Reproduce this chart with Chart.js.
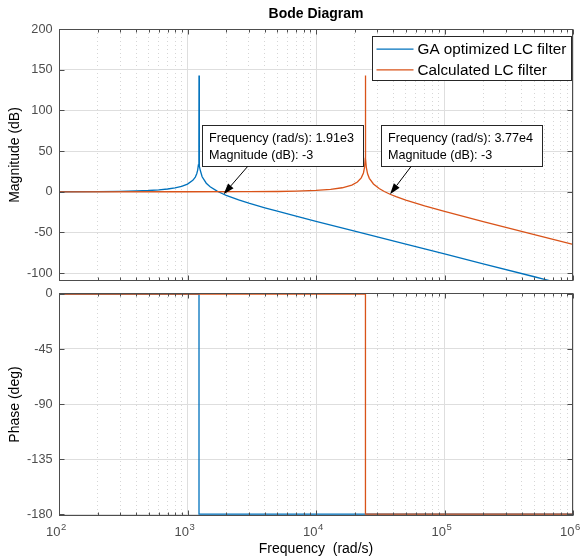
<!DOCTYPE html>
<html>
<head>
<meta charset="utf-8">
<script src="https://cdn.jsdelivr.net/npm/chart.js@4.4.0/dist/chart.umd.min.js"></script>
<style>
  html, body { margin: 0; padding: 0; background: #fff; }
  #wrap { position: relative; width: 587px; height: 560px; }
  #wrap canvas { position: absolute; left: 0; top: 0; }
</style>
</head>
<body>
<div id="wrap">
  <canvas id="magChart" width="587" height="560"></canvas>
  <canvas id="phaseChart" width="587" height="560"></canvas>
</div>
<script>
// series names
const seriesNames = ['GA optimized LC filter', 'Calculated LC filter'];

// GA optimized filter - magnitude (dB)
const gaFreq = [100, 200, 300, 400, 500, 600, 700, 800, 900, 1000,
    1100, 1150, 1180, 1200, 1215, 1225, 1228, 1229, 1230, 1233,
    1245, 1260, 1300, 1400, 1500, 1700, 1910, 2000, 2500, 3000,
    4000, 5000, 7000, 10000, 20000, 50000, 100000, 200000, 500000, 600000,
    1000000];
const gaMag = [0.06, 0.23, 0.53, 0.97, 1.57, 2.36, 3.41, 4.79, 6.68, 9.42,
    14.03, 18.1, 22.15, 26.63, 32.9, 43.7, 55.8, 143, 55.8, 43.7,
    31.6, 25.8, 18.5, 10.53, 6.2, 0.79, -3.02, -4.34, -9.93, -13.91,
    -19.64, -23.84, -29.95, -36.29, -48.43, -64.37, -76.42, -88.46, -104.38, -107.55,
    -116.4];

// calculated filter - magnitude (dB)
const calcFreq = [100, 1000, 3000, 5000, 7000, 10000, 13000, 16000, 19000, 21000,
    22500, 23400, 23900, 24150, 24230, 24260, 24290, 24370, 24650, 25200,
    26000, 28000, 31000, 34000, 37700, 42000, 50000, 70000, 100000, 150000,
    200000, 300000, 500000, 700000, 1000000];
const calcMag = [0, 0.02, 0.13, 0.38, 0.76, 1.62, 2.94, 4.96, 8.25, 12.02,
    17.09, 23.14, 30.62, 40.88, 52.1, 143, 52.1, 40.8, 29.79, 22.05,
    16.56, 9.57, 3.97, 0.32, -3.01, -6.01, -10.23, -17.3, -24.08, -31.42,
    -36.52, -43.63, -52.54, -58.4, -64.6];

// phase (deg)
const gaPhaseFreq = [100, 1229, 1229, 1000000];
const gaPhase = [0, 0, -180, -180];
const calcPhaseFreq = [100, 24260, 24260, 1000000];
const calcPhase = [0, 0, -180, -180];

// data tips
const tipFreq = [1910, 37700];
const tipMag = [-3, -3];

// ticks
const decades = [100, 1000, 10000, 100000, 1000000];
const decadeBase = '10';
const decadeExps = ['2', '3', '4', '5', '6'];
const magTicks = [-100, -50, 0, 50, 100, 150, 200];
const phaseTicks = [-180, -135, -90, -45, 0];

// layout bits for the data tip boxes (pixel offsets from the tip point)
const tipBoxDx = [-22, -9];
const tipTailDx = [24, 21];

const fontFamily = '"Liberation Sans", Arial, Helvetica, sans-serif';
const blue = '#0072BD';
const orange = '#D95319';
const tickGray = '#4d4d4d';
Chart.defaults.font.family = fontFamily;
Chart.defaults.color = tickGray;

const minorFreqs = [];
decades.slice(0, -1).forEach(d => { for (let k = 2; k <= 9; k++) minorFreqs.push(k * d); });
const allFreqTicks = decades.concat(minorFreqs).sort((a, b) => a - b);
const isDecade = v => decades.includes(v);

function pts(xs, ys) { return xs.map((x, i) => ({ x: x, y: ys[i] })); }

function freqAxis(showLabels) {
    return {
        type: 'logarithmic',
        min: 100,
        max: 1000000,
        afterBuildTicks: s => { s.ticks = allFreqTicks.map(v => ({ value: v })); },
        afterFit: s => { s.height = showLabels ? 44 : 0; },
        grid: {
            color: c => (c.tick && isDecade(c.tick.value)) ? '#dedede' : '#d6d6d6',
            lineWidth: 1,
            drawTicks: false
        },
        border: {
            display: false,
            dash: c => (c.tick && !isDecade(c.tick.value)) ? [1, 3] : []
        },
        ticks: { display: false, autoSkip: false },
        title: {
            display: showLabels,
            text: 'Frequency  (rad/s)',
            color: '#000',
            font: { size: 14 },
            padding: { top: 0, bottom: 2 }
        }
    };
}

function valueAxis(min, max, ticks, title) {
    return {
        min: min,
        max: max,
        bounds: 'data',
        afterBuildTicks: s => { s.ticks = ticks.map(v => ({ value: v })); },
        afterFit: s => { s.width = 59; },
        grid: { color: '#dedede', drawTicks: false },
        border: { display: false },
        ticks: { padding: 6.5, font: { size: 12.7 }, color: tickGray, callback: v => String(v) },
        title: { display: true, text: title, color: '#000', font: { size: 14 }, padding: { top: 7, bottom: 0 } }
    };
}

// box round the plot area, with inward tick marks
const axesBox = {
    id: 'axesBox',
    afterDatasetsDraw(chart) {
        const ctx = chart.ctx;
        const a = chart.chartArea;
        const xs = chart.scales.x, ys = chart.scales.y;
        const L = Math.round(a.left) + 0.5, R = Math.round(a.right) - 0.5;
        const T = Math.round(a.top) + 0.5, B = Math.round(a.bottom) - 0.5;
        ctx.save();
        ctx.strokeStyle = '#4d4d4d';
        ctx.lineWidth = 1;
        ctx.beginPath();
        allFreqTicks.forEach(v => {
            const x = Math.round(xs.getPixelForValue(v)) + 0.5;
            const len = isDecade(v) ? 5 : 3;
            ctx.moveTo(x, T); ctx.lineTo(x, T + len);
            ctx.moveTo(x, B); ctx.lineTo(x, B - len);
        });
        ys.ticks.forEach(t => {
            const y = Math.round(ys.getPixelForValue(t.value)) + 0.5;
            ctx.moveTo(L, y); ctx.lineTo(L + 5, y);
            ctx.moveTo(R, y); ctx.lineTo(R - 5, y);
        });
        ctx.stroke();
        ctx.strokeRect(L, T, R - L, B - T);
        ctx.restore();
    }
};

// 10^n tick labels with a raised exponent
const powerLabels = {
    id: 'powerLabels',
    afterDraw(chart) {
        const ctx = chart.ctx, xs = chart.scales.x;
        const y = chart.chartArea.bottom + 16.5;
        ctx.save();
        ctx.fillStyle = tickGray;
        ctx.textBaseline = 'middle';
        decades.forEach((d, i) => {
            const x = xs.getPixelForValue(d) + 1.5;
            ctx.font = '13px ' + fontFamily;
            ctx.textAlign = 'right';
            ctx.fillText(decadeBase, x, y);
            ctx.font = '9.5px ' + fontFamily;
            ctx.textAlign = 'left';
            ctx.fillText(decadeExps[i], x + 0.5, y - 5);
        });
        ctx.restore();
    }
};

// legend inside the top-right corner
const boxLegend = {
    id: 'boxLegend',
    afterDraw(chart) {
        const ctx = chart.ctx, a = chart.chartArea;
        const sets = chart.data.datasets;
        ctx.save();
        ctx.font = '15.3px ' + fontFamily;
        const textW = Math.max(...sets.map(d => ctx.measureText(d.label).width));
        const w = Math.round(4 + 37 + 4 + textW + 5), h = 44;
        const x0 = Math.round(a.right - 2 - w) + 0.5, y0 = Math.round(a.top + 6.5) + 0.5;
        ctx.fillStyle = '#fff';
        ctx.fillRect(x0, y0, w, h);
        ctx.strokeStyle = '#262626';
        ctx.lineWidth = 1;
        ctx.strokeRect(x0, y0, w, h);
        sets.forEach((d, i) => {
            const y = y0 + 12.6 + i * 20.7;
            ctx.strokeStyle = d.borderColor;
            ctx.lineWidth = d.borderWidth;
            ctx.beginPath();
            ctx.moveTo(x0 + 4, y);
            ctx.lineTo(x0 + 41, y);
            ctx.stroke();
            ctx.fillStyle = '#000';
            ctx.textBaseline = 'middle';
            ctx.textAlign = 'left';
            ctx.fillText(d.label, x0 + 45, y + 0.5);
        });
        ctx.restore();
    }
};

function fmtExp(v) { return v.toExponential(2).replace('+', ''); }

// MATLAB style data tips with arrows
const dataTips = {
    id: 'dataTips',
    afterDraw(chart) {
        const ctx = chart.ctx, xs = chart.scales.x, ys = chart.scales.y;
        ctx.save();
        ctx.font = '12.6px ' + fontFamily;
        tipFreq.forEach((f, i) => {
            const px = xs.getPixelForValue(f), py = ys.getPixelForValue(tipMag[i]);
            const lines = ['Frequency (rad/s): ' + fmtExp(f), 'Magnitude (dB): ' + tipMag[i]];
            const w = Math.round(Math.max(...lines.map(s => ctx.measureText(s).width)) + 16);
            const h = 41;
            const bx = Math.round(px + tipBoxDx[i]) + 0.5, by = Math.round(py - 69.5) + 0.5;
            ctx.fillStyle = '#fff';
            ctx.fillRect(bx, by, w, h);
            ctx.strokeStyle = '#262626';
            ctx.lineWidth = 1;
            ctx.strokeRect(bx, by, w, h);
            ctx.fillStyle = '#000';
            ctx.textBaseline = 'middle';
            ctx.textAlign = 'left';
            ctx.fillText(lines[0], bx + 6.5, by + 13.3);
            ctx.fillText(lines[1], bx + 6.5, by + 30);

            // arrow from box to the point
            const tx = px + tipTailDx[i], ty = by + h;
            const ang = Math.atan2(py - ty, px - tx);
            const hl = 11, hw = 3.6;
            const bxh = px - hl * Math.cos(ang), byh = py - hl * Math.sin(ang);
            ctx.strokeStyle = '#000';
            ctx.beginPath();
            ctx.moveTo(tx, ty);
            ctx.lineTo(bxh, byh);
            ctx.stroke();
            ctx.beginPath();
            ctx.moveTo(px, py);
            ctx.lineTo(bxh + hw * Math.sin(ang), byh - hw * Math.cos(ang));
            ctx.lineTo(bxh - hw * Math.sin(ang), byh + hw * Math.cos(ang));
            ctx.closePath();
            ctx.fillStyle = '#000';
            ctx.fill();
        });
        ctx.restore();
    }
};

function lineSet(label, data, color, order) {
    return {
        label: label,
        data: data,
        borderColor: color,
        backgroundColor: color,
        borderWidth: 1.3,
        pointRadius: 0,
        tension: 0,
        fill: false,
        order: order
    };
}

const magChart = new Chart(document.getElementById('magChart'), {
    type: 'line',
    data: {
        datasets: [
            lineSet(seriesNames[0], pts(gaFreq, gaMag), blue, 1),
            lineSet(seriesNames[1], pts(calcFreq, calcMag), orange, 0)
        ]
    },
    options: {
        responsive: false,
        animation: false,
        layout: { padding: { left: 0, right: 14, top: 0, bottom: 279 } },
        plugins: {
            legend: { display: false },
            tooltip: { enabled: false },
            title: {
                display: true,
                text: 'Bode Diagram',
                fullSize: false,
                color: '#000',
                font: { size: 14, weight: 'bold' },
                padding: { top: 6, bottom: 6.2 }
            }
        },
        scales: {
            x: freqAxis(false),
            y: valueAxis(-109.6, 200, magTicks, 'Magnitude (dB)')
        }
    },
    plugins: [axesBox, dataTips, boxLegend]
});

const phaseChart = new Chart(document.getElementById('phaseChart'), {
    type: 'line',
    data: {
        datasets: [
            lineSet(seriesNames[0], pts(gaPhaseFreq, gaPhase), blue, 1),
            lineSet(seriesNames[1], pts(calcPhaseFreq, calcPhase), orange, 0)
        ]
    },
    options: {
        responsive: false,
        animation: false,
        layout: { padding: { left: 0, right: 14, top: 293, bottom: 0 } },
        plugins: {
            legend: { display: false },
            tooltip: { enabled: false }
        },
        scales: {
            x: freqAxis(true),
            y: valueAxis(-181.6, 0.8, phaseTicks, 'Phase (deg)')
        }
    },
    plugins: [axesBox, powerLabels]
});
</script>
</body>
</html>
